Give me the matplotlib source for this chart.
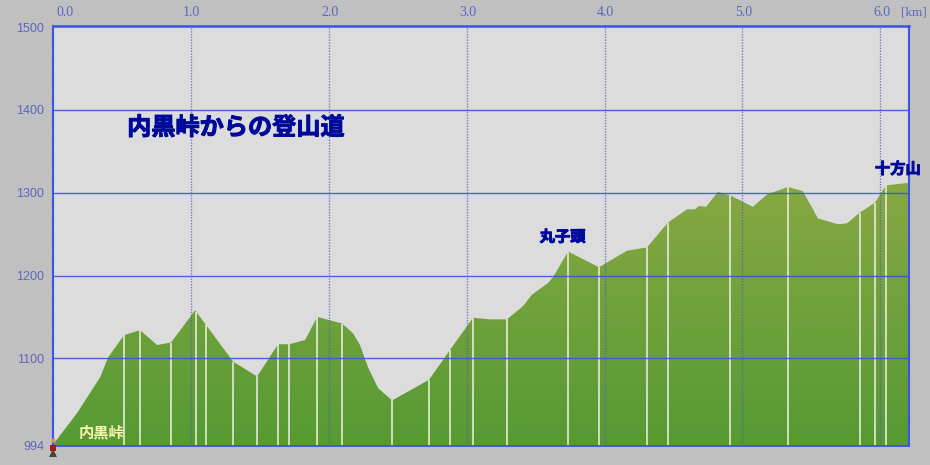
import numpy as np
import matplotlib
matplotlib.use("Agg")
import matplotlib.pyplot as plt
import matplotlib.patheffects as pe
from matplotlib.colors import LinearSegmentedColormap
from matplotlib.patches import Polygon
from matplotlib.transforms import ScaledTranslation

# profile
dist_km = [0.0, 0.178, 0.344, 0.402, 0.518, 0.634, 0.757, 0.858, 1.033, 1.308, 1.482, 1.634, 1.714, 1.83,
           1.917, 2.098, 2.178, 2.228, 2.286, 2.359, 2.46, 2.728, 2.88, 3.047, 3.17, 3.293, 3.409, 3.475,
           3.591, 3.627, 3.736, 3.96, 4.163, 4.308, 4.46, 4.598, 4.656, 4.685, 4.736, 4.822, 4.909, 5.076,
           5.178, 5.33, 5.438, 5.547, 5.692, 5.757, 5.851, 5.96, 6.04, 6.207]
elev_m = [995, 1034, 1077, 1101, 1128, 1134, 1116, 1119, 1158, 1096, 1078, 1117, 1117, 1122,
          1150, 1142, 1130, 1116, 1089, 1064, 1049, 1074, 1110, 1149, 1147, 1147, 1163, 1177,
          1191, 1198, 1229, 1210, 1230, 1234, 1264, 1280, 1280, 1284, 1283, 1301, 1297, 1283,
          1298, 1307, 1302, 1269, 1262, 1263, 1276, 1288, 1309, 1312]

# white waypoint lines
waypoints_km = [0.518, 0.634, 0.858, 1.04, 1.112, 1.308, 1.482, 1.634, 1.714, 1.917, 2.098, 2.46, 2.728,
                2.88, 3.047, 3.293, 3.736, 3.96, 4.308, 4.46, 4.909, 5.33, 5.851, 5.96, 6.04]

x_ticks = [0, 1, 2, 3, 4, 5, 6]
x_labels = ["0.0", "1.0", "2.0", "3.0", "4.0", "5.0", "6.0"]
y_ticks = [994, 1100, 1200, 1300, 1400, 1500]
y_grid = [1100, 1200, 1300, 1400]

BLUE = "#3a55e0"
TICK = "#5a68c0"
NAVY = "#000a9a"

plt.rcParams["font.family"] = ["Liberation Serif", "DejaVu Sans"]

fig = plt.figure(figsize=(9.3, 4.65), dpi=100, facecolor="#c0c0c0")
ax = fig.add_axes([52.5 / 930, 19 / 465, 856.5 / 930, 420 / 465], facecolor="#dcdcdc")

# gradient fill clipped to the profile
cmap = LinearSegmentedColormap.from_list("ground", ["#559a33", "#88a843"])
grad = np.linspace(0, 1, 256).reshape(-1, 1)
im = ax.imshow(grad, extent=[0, 6.207, 994, 1312], origin="lower", aspect="auto", cmap=cmap, zorder=1)
poly = Polygon(list(zip(dist_km, elev_m)) + [(6.207, 994), (0, 994)], transform=ax.transData, fc="none", ec="none")
ax.add_patch(poly)
im.set_clip_path(poly)
ax.set_xlim(-0.001, 6.207)
ax.set_ylim(994, 1501.5)

ax.vlines(waypoints_km, 994, np.interp(waypoints_km, dist_km, elev_m), color="#f0f0e6", lw=1.1, zorder=2)
ax.hlines(y_grid, 0, 6.207, color=BLUE, lw=1.0, alpha=0.9, zorder=3)
ax.vlines(x_ticks[1:], 994, 1501.5, color="#4a60c0", lw=1.0, ls=(0, (1, 1)), alpha=0.75, zorder=3)

for s in ax.spines.values():
    s.set_color(BLUE)
    s.set_zorder(5)
ax.spines["top"].set_linewidth(1.8)
ax.spines["bottom"].set_linewidth(1.3)
ax.spines["right"].set_linewidth(1.5)
ax.spines["left"].set_linewidth(1.5)
ax.spines["left"].set_linestyle((0, (1, 0.6)))

ax.xaxis.tick_top()
ax.set_xticks(x_ticks, x_labels)
ax.set_yticks(y_ticks, [str(v) for v in y_ticks])
ax.tick_params(axis="x", length=0, pad=5, labelsize=10, labelcolor=TICK)
ax.tick_params(axis="y", length=0, pad=6, labelsize=9, labelcolor=TICK)
for lab in ax.get_yticklabels():
    lab.set_family(["Liberation Sans", "DejaVu Sans"])

# first label sits right of the axis corner, the others a pixel right of their line
for i, lab in enumerate(ax.get_xticklabels()):
    dx = 12.5 if i == 0 else 1
    lab.set_transform(lab.get_transform() + ScaledTranslation(dx / 100, 0, fig.dpi_scale_trans))

ax.text(6.335, 1510, "[km]", color=TICK, fontsize=9.5, va="bottom", ha="right", clip_on=False)

jp = ["Noto Sans CJK JP", "DejaVu Sans"]
thick = [pe.withStroke(linewidth=0.7, foreground=NAVY)]
ax.text(0.54, 1378.5, "内黒峠からの登山道", family=jp, weight="bold", fontsize=17.4, color=NAVY,
        va="center", zorder=6, path_effects=thick)
ax.text(3.53, 1247, "丸子頭", family=jp, weight="bold", fontsize=11, color=NAVY, va="center", zorder=6, path_effects=thick)
ax.text(5.96, 1329, "十方山", family=jp, weight="bold", fontsize=11, color=NAVY, va="center", clip_on=False,
        zorder=6, path_effects=thick)
ax.text(0.185, 1010, "内黒峠", family=jp, weight="bold", fontsize=11, color="#fbf6b0", va="center", zorder=6)

# little walker at the start
ax.plot([0], [992], marker="s", ms=5, color="#a01818", mew=0, clip_on=False, zorder=7)
ax.plot([0], [1001], marker="o", ms=3, color="#e09060", mew=0, clip_on=False, zorder=7)
ax.plot([0], [985], marker="^", ms=5.5, color="#504030", mew=0, clip_on=False, zorder=7)

fig.savefig("out.png", dpi=100, facecolor=fig.get_facecolor())
